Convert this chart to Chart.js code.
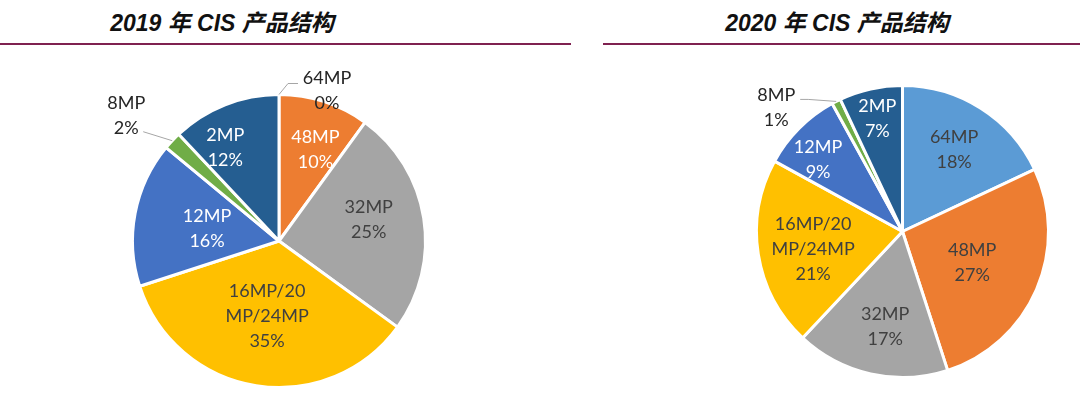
<!DOCTYPE html>
<html>
<head>
<meta charset="utf-8">
<script src="https://cdn.jsdelivr.net/npm/chart.js@4.4.1/dist/chart.umd.min.js"></script>
<style>
    body { margin: 0; width: 1080px; height: 399px; background: #fff; position: relative; overflow: hidden; }
    .title { position: absolute; top: 4px; line-height: 22px; font: italic bold 23px 'Liberation Sans', 'Noto Sans CJK SC', sans-serif; color: #111; white-space: nowrap; transform: translateX(-50%); }
    .rule { position: absolute; top: 43px; height: 2px; background: #7f2150; }
    .box { position: absolute; top: 50px; height: 349px; }
</style>
</head>
<body>
<div class="title" style="left:222px">2019 年 CIS 产品结构</div>
<div class="title" style="left:837px">2020 年 CIS 产品结构</div>
<div class="rule" style="left:0; width:571px"></div>
<div class="rule" style="left:603px; width:477px"></div>
<div class="box" style="left:0; width:560px"><canvas id="pie2019"></canvas></div>
<div class="box" style="left:560px; width:520px"><canvas id="pie2020"></canvas></div>

<script>
// Data (percent share, clockwise from 12 o'clock)
const categories = ['64MP', '48MP', '32MP', '16MP/20MP/24MP', '12MP', '8MP', '2MP'];
const labelLines = [['64MP'], ['48MP'], ['32MP'], ['16MP/20', 'MP/24MP'], ['12MP'], ['8MP'], ['2MP']];
const share2019 = [0, 10, 25, 35, 16, 2, 12];
const share2020 = [18, 27, 17, 21, 9, 1, 7];

const sliceColors = ['#5b9bd5', '#ed7d31', '#a5a5a5', '#ffc000', '#4472c4', '#70ad47', '#255e91'];

const DARK = '#404040';
const WHITE = '#ffffff';

// Label placement: radial fraction + small nudge, outside labels get a leader line
const place2019 = [
    { f: 1, dx: 48, dy: -4, color: '#262626', leader: { ex: -29, ey: -7, elbow: 10 } },
    { f: 0.65, dx: 7, dy: -1, color: WHITE },
    { f: 0.62, dx: 0, dy: -7, color: DARK },
    { f: 0.52, dx: 0, dy: 0, color: DARK },
    { f: 0.5, dx: 0, dy: 1, color: WHITE },
    { f: 1, dx: -46, dy: -25, color: '#262626', leader: { ex: 17, ey: 16, elbow: 0 } },
    { f: 0.68, dx: -17, dy: -1, color: WHITE }
];
const place2020 = [
    { f: 0.66, dx: 0, dy: 0, color: DARK },
    { f: 0.52, dx: 0, dy: 1, color: DARK },
    { f: 0.67, dx: 4, dy: 0, color: DARK },
    { f: 0.62, dx: 0, dy: 4, color: DARK },
    { f: 0.75, dx: -7, dy: 6, color: WHITE },
    { f: 1, dx: -60, dy: 6, color: '#262626', leader: { ex: 24, ey: -8, elbow: 8 } },
    { f: 0.79, dx: 0, dy: 0, color: WHITE }
];

// Draws the category + percentage labels from the arc geometry
const sliceLabels = {
    id: 'sliceLabels',
    afterDatasetsDraw(chart, args, opts) {
        const ctx = chart.ctx;
        const values = chart.data.datasets[0].data;
        const arcs = chart.getDatasetMeta(0).data;
        ctx.save();
        ctx.font = '18px Lato, "Open Sans", sans-serif';
        ctx.textAlign = 'center';
        ctx.textBaseline = 'middle';
        arcs.forEach((arc, i) => {
            const p = arc.getProps(['x', 'y', 'startAngle', 'endAngle', 'outerRadius'], true);
            const pl = opts.place[i];
            const mid = (p.startAngle + p.endAngle) / 2;
            const ex = p.x + Math.cos(mid) * p.outerRadius;
            const ey = p.y + Math.sin(mid) * p.outerRadius;
            const cx = p.x + Math.cos(mid) * p.outerRadius * pl.f + pl.dx;
            const cy = p.y + Math.sin(mid) * p.outerRadius * pl.f + pl.dy;

            if (pl.leader) {
                const lx = cx + pl.leader.ex;
                const ly = cy + pl.leader.ey;
                const dir = ex > lx ? 1 : -1;
                ctx.strokeStyle = '#a6a6a6';
                ctx.lineWidth = 1;
                ctx.beginPath();
                ctx.moveTo(lx, ly);
                ctx.lineTo(lx + dir * pl.leader.elbow, ly);
                ctx.lineTo(ex, ey);
                ctx.stroke();
            }

            const lines = labelLines[i].concat([values[i] + '%']);
            const lh = 25;
            ctx.fillStyle = pl.color;
            lines.forEach((t, k) => {
                ctx.fillText(t, cx, cy + (k - (lines.length - 1) / 2) * lh);
            });
        });
        ctx.restore();
    }
};

function makePie(id, values, place, padding) {
    return new Chart(document.getElementById(id), {
        type: 'pie',
        data: {
            labels: categories,
            datasets: [{
                data: values,
                backgroundColor: sliceColors,
                borderColor: '#ffffff',
                borderWidth: 3
            }]
        },
        options: {
            responsive: true,
            maintainAspectRatio: false,
            animation: false,
            layout: { padding: padding },
            plugins: {
                legend: { display: false },
                tooltip: { enabled: false },
                sliceLabels: { place: place }
            }
        },
        plugins: [sliceLabels]
    });
}

makePie('pie2019', share2019, place2019, { left: 131, right: 133, top: 43, bottom: 10 });
makePie('pie2020', share2020, place2020, { left: 195, right: 30, top: 34, bottom: 20 });
</script>
</body>
</html>
